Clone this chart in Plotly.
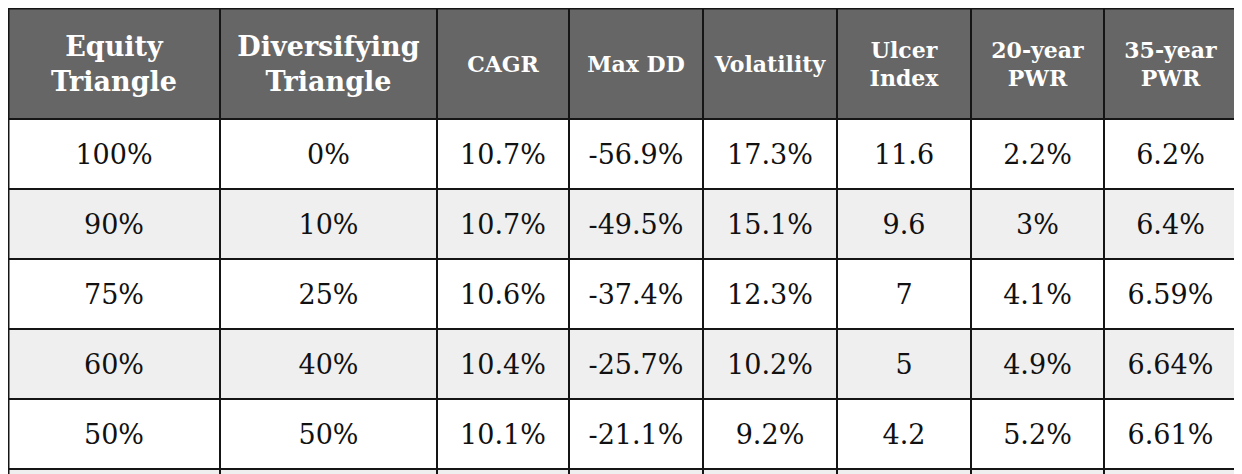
import numpy as np
import plotly.graph_objects as go

# --- DATA ---
headers = ["Equity<br>Triangle", "Diversifying<br>Triangle", "CAGR", "Max DD",
           "Volatility", "Ulcer<br>Index", "20-year<br>PWR", "35-year<br>PWR"]
equity = ["100%", "90%", "75%", "60%", "50%"]
diversifying = ["0%", "10%", "25%", "40%", "50%"]
cagr = ["10.7%", "10.7%", "10.6%", "10.4%", "10.1%"]
max_dd = ["-56.9%", "-49.5%", "-37.4%", "-25.7%", "-21.1%"]
volatility = ["17.3%", "15.1%", "12.3%", "10.2%", "9.2%"]
ulcer = ["11.6", "9.6", "7", "5", "4.2"]
pwr_20 = ["2.2%", "3%", "4.1%", "4.9%", "5.2%"]
pwr_35 = ["6.2%", "6.4%", "6.59%", "6.64%", "6.61%"]

# --- LAYOUT (pixel-ish units) ---
col_widths = [212, 217, 132, 134, 134, 134, 133, 133]
header_h = 111
row_h = 70
n_rows = len(equity) + 1  # one more row is cut off at the bottom of the picture
text_dy = 3  # nudge text down a little so it sits like the original

columns = [equity, diversifying, cagr, max_dd, volatility, ulcer, pwr_20, pwr_35]

x_edges = np.concatenate([[0], np.cumsum(col_widths)])
y_edges = np.concatenate([[0], header_h + row_h * np.arange(n_rows + 1)])
x_mid = (x_edges[:-1] + x_edges[1:]) / 2
y_mid = (y_edges[:-1] + y_edges[1:]) / 2 + text_dy

# fill levels: 2 = header, 0 = white row, 1 = grey row
z = [[2] * len(columns)] + [[i % 2] * len(columns) for i in range(n_rows)]

fig = go.Figure()

fig.add_trace(go.Heatmap(
    x=x_edges, y=y_edges, z=z,
    zmin=0, zmax=2,
    colorscale=[[0, "#ffffff"], [0.5, "#efefef"], [1, "#666666"]],
    showscale=False, xgap=2, ygap=2, hoverinfo="skip",
))

# header text
fig.add_trace(go.Scatter(
    x=x_mid, y=[y_mid[0]] * len(headers),
    mode="text",
    text=[f"<b>{h}</b>" for h in headers],
    textposition="middle center",
    textfont=dict(family="DejaVu Serif", color="white",
                  size=[27, 27, 22, 22, 22, 22, 22, 22]),
    hoverinfo="skip",
))

# body text
bx, by, bt = [], [], []
for c, col in enumerate(columns):
    for r, val in enumerate(col):
        bx.append(x_mid[c])
        by.append(y_mid[r + 1])
        bt.append(val)

fig.add_trace(go.Scatter(
    x=bx, y=by, mode="text", text=bt,
    textposition="middle center",
    textfont=dict(family="DejaVu Serif", color="#111111", size=27),
    hoverinfo="skip",
))

# page body has an 8px margin, so the figure itself starts at (8, 8);
# make it a bit taller than the window so the last row runs off the bottom
fig_h = 500

fig.update_layout(
    width=int(x_edges[-1]) + 2, height=fig_h,
    margin=dict(l=0, r=2, t=0, b=0),
    paper_bgcolor="white",
    plot_bgcolor="#151515",
    showlegend=False,
    xaxis=dict(range=[0, x_edges[-1]], visible=False, fixedrange=True),
    yaxis=dict(range=[fig_h, 0], visible=False, fixedrange=True),
    shapes=[dict(type="rect", xref="paper", yref="paper", x0=0, x1=1, y0=0, y1=1,
                 line=dict(color="#151515", width=3), layer="above")],
)

fig.write_html("out.html")
